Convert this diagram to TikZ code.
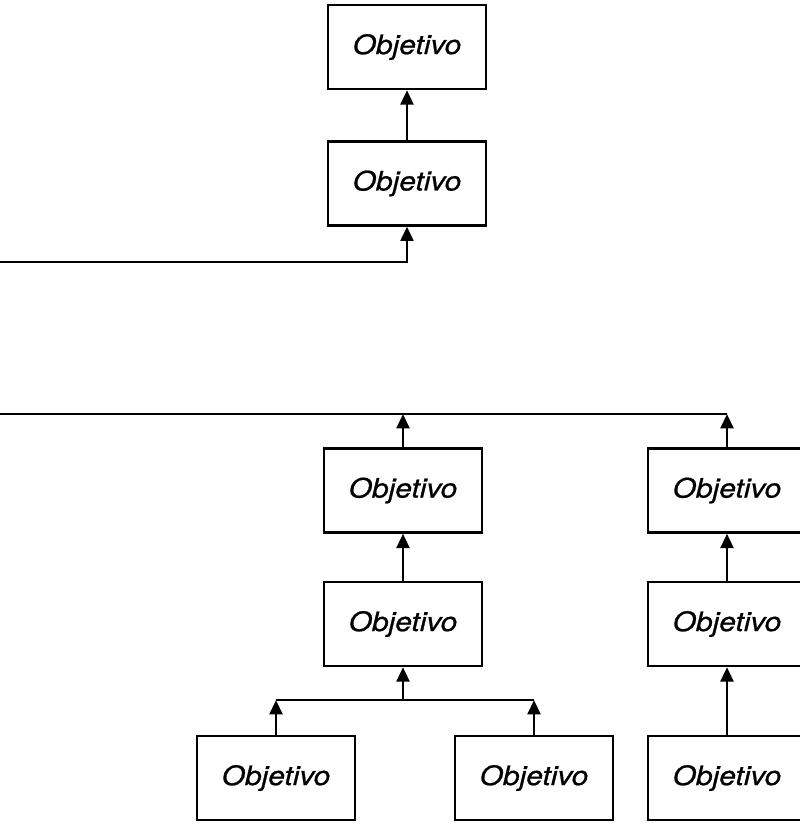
\documentclass[tikz,border=0pt]{standalone}
\usepackage{fontspec}
\newfontfamily\objfont[FakeStretch=1.12,FakeBold=0.8]{TeX Gyre Heros}
\usetikzlibrary{arrows.meta}

\tikzset{
  obj/.style={draw,line width=1.7pt,minimum width=3.95cm,minimum height=2.1cm,inner sep=0pt,
              font=\objfont\fontsize{19}{22}\selectfont\itshape},
  con/.style={line width=2pt},
  arr/.style={con,-{Triangle[length=3.6mm,width=3.2mm]}}
}

\begin{document}
\begin{tikzpicture}
  \useasboundingbox (0,0) rectangle (20,20.575);
  \clip (0,0) rectangle (20,20.575);

  % upper chain
  \node[obj] (top1) at (10.175,19.4) {Objetivo};
  \node[obj] (top2) at (10.175,15.99) {Objetivo};
  \coordinate (inA) at (0,14.025); % line coming from the left

  \draw[arr] (top2) -- (top1);
  \draw[arr] (inA) -| (top2.south);

  % lower tree
  \node[obj] (mid1) at (10.075,8.3125) {Objetivo};
  \node[obj] (mid2) at (10.075,4.975) {Objetivo};
  \node[obj] (low1) at (6.9,1.125) {Objetivo};
  \node[obj] (low2) at (13.35,1.125) {Objetivo};
  \node[obj] (rgt1) at (18.175,8.3125) {Objetivo};
  \node[obj] (rgt2) at (18.175,4.975) {Objetivo};
  \node[obj] (rgt3) at (18.175,1.125) {Objetivo};

  \coordinate (inB) at (0,10.225); % line going off to the left
  \coordinate (jn) at (10.075,3.075); % junction under mid2

  \draw[con] (inB) -- (rgt1.north |- inB);
  \draw[arr] (mid1.north) -- (mid1.north |- inB);
  \draw[arr] (rgt1.north) -- (rgt1.north |- inB);

  \draw[arr] (mid2) -- (mid1);
  \draw[arr] (rgt2) -- (rgt1);
  \draw[arr] (rgt3) -- (rgt2);

  \draw[con] (low1.north |- jn) -- (low2.north |- jn);
  \draw[arr] (jn) -- (mid2.south);
  \draw[arr] (low1.north) -- (low1.north |- jn);
  \draw[arr] (low2.north) -- (low2.north |- jn);
\end{tikzpicture}
\end{document}
